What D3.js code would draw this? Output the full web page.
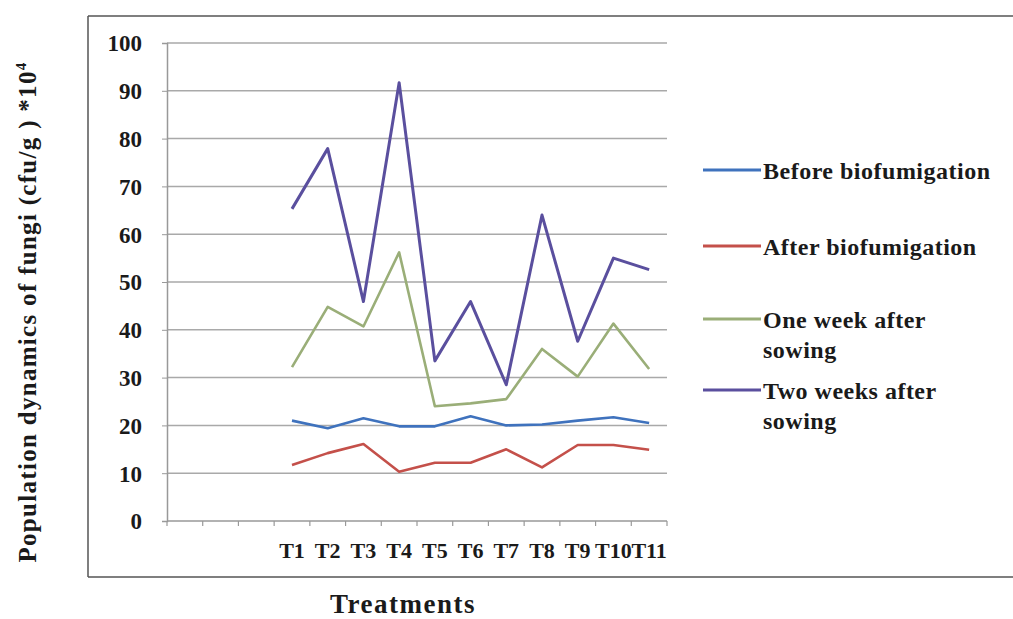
<!DOCTYPE html>
<html>
<head>
<meta charset="utf-8">
<script src="https://cdn.jsdelivr.net/npm/d3@7/dist/d3.min.js"></script>
<style>
  body { margin: 0; background: #fff; }
  svg { display: block; }
  text { font-family: "Liberation Serif", "Times New Roman", serif; font-weight: bold; fill: #1a1a1a; }
</style>
</head>
<body>
<svg id="chart" width="1013" height="619"></svg>
<script>
// Categories: three unlabeled slots ahead of the treatments
const categories = ["", "", "", "T1", "T2", "T3", "T4", "T5", "T6", "T7", "T8", "T9", "T10", "T11"];
const treatments = ["T1", "T2", "T3", "T4", "T5", "T6", "T7", "T8", "T9", "T10", "T11"];
const yTicks = [0, 10, 20, 30, 40, 50, 60, 70, 80, 90, 100];

const beforeBio = [21, 19.4, 21.5, 19.8, 19.8, 21.9, 20, 20.2, 21, 21.7, 20.5];
const afterBio = [11.7, 14.2, 16.1, 10.3, 12.2, 12.2, 15, 11.2, 15.9, 15.9, 14.9];
const oneWeek = [32.2, 44.8, 40.7, 56.2, 24, 24.6, 25.5, 36, 30.2, 41.3, 31.8];
const twoWeeks = [65.3, 77.9, 45.9, 91.7, 33.5, 45.9, 28.5, 64, 37.6, 55, 52.6];

const seriesColors = ["#3f72bd", "#c4504a", "#9aae78", "#5a4f9e"];
const seriesData = [beforeBio, afterBio, oneWeek, twoWeeks];

const svg = d3.select("#chart");
const plotLeft = 167, plotRight = 667, plotTop = 43, plotBottom = 521;

// Outer chart frame
const frame = svg.append("g").attr("stroke", "#555").attr("stroke-width", 1.5).attr("fill", "none");
frame.append("line").attr("x1", 88).attr("x2", 1013).attr("y1", 16).attr("y2", 16);
frame.append("line").attr("x1", 88).attr("x2", 88).attr("y1", 16).attr("y2", 577);
frame.append("line").attr("x1", 88).attr("x2", 1013).attr("y1", 577).attr("y2", 577);

const x = d3.scaleBand().domain(categories.map((d, i) => i)).range([plotLeft, plotRight]);
const y = d3.scaleLinear().domain([0, 100]).range([plotBottom, plotTop]);

// Horizontal gridlines
svg.append("g")
  .selectAll("line")
  .data(yTicks.filter(d => d > 0))
  .join("line")
  .attr("x1", plotLeft).attr("x2", plotRight)
  .attr("y1", d => y(d)).attr("y2", d => y(d))
  .attr("stroke", "#a9a9a9").attr("stroke-width", 1.5);

// Y axis
const yAxis = svg.append("g")
  .attr("transform", `translate(${plotLeft},0)`)
  .call(d3.axisLeft(y).tickValues(yTicks).tickSize(5).tickPadding(20));
yAxis.select(".domain").attr("stroke", "#999").attr("stroke-width", 1.5);
yAxis.selectAll(".tick line").attr("stroke", "#999");
yAxis.selectAll("text").style("font-size", "23px").attr("fill", "#1a1a1a").attr("dy", "0.34em")
  .style("font-family", "'Liberation Serif', serif").style("font-weight", "bold");

// X axis with tick marks at category boundaries
const xAxis = svg.append("g").attr("transform", `translate(0,${plotBottom})`);
xAxis.append("line").attr("x1", plotLeft).attr("x2", plotRight).attr("y1", 0).attr("y2", 0)
  .attr("stroke", "#999").attr("stroke-width", 1.5);
xAxis.selectAll("line.tk")
  .data(d3.range(categories.length + 1))
  .join("line")
  .attr("class", "tk")
  .attr("x1", i => plotLeft + i * x.step()).attr("x2", i => plotLeft + i * x.step())
  .attr("y1", 0).attr("y2", 5)
  .attr("stroke", "#999").attr("stroke-width", 1.2);
xAxis.selectAll("text")
  .data(categories)
  .join("text")
  .attr("x", (d, i) => x(i) + x.bandwidth() / 2)
  .attr("y", 37)
  .attr("text-anchor", "middle")
  .style("font-size", "22px")
  .text(d => d);

// Series lines
const line = d3.line()
  .x((d, i) => x(categories.indexOf(treatments[i])) + x.bandwidth() / 2)
  .y(d => y(d));

seriesData.forEach((vals, k) => {
  svg.append("path")
    .datum(vals)
    .attr("fill", "none")
    .attr("stroke", seriesColors[k])
    .attr("stroke-width", k === 3 ? 3 : 2.6)
    .attr("stroke-linejoin", "round")
    .attr("d", line);
});

// Legend
const legendRows = [
  { lines: ["Before biofumigation"], y: 170 },
  { lines: ["After biofumigation"], y: 246 },
  { lines: ["One week after", "sowing"], y: 319 },
  { lines: ["Two weeks after", "sowing"], y: 390 }
];
const legend = svg.append("g");
legendRows.forEach((r, k) => {
  legend.append("line")
    .attr("x1", 703).attr("x2", 761)
    .attr("y1", r.y).attr("y2", r.y)
    .attr("stroke", seriesColors[k]).attr("stroke-width", 3);
  const t = legend.append("text")
    .attr("x", 763).attr("y", r.y + 9)
    .style("font-size", "24px")
    .style("letter-spacing", "0.5px");
  r.lines.forEach((s, j) => {
    t.append("tspan").attr("x", 763).attr("dy", j === 0 ? 0 : 30).text(s);
  });
});

// Axis titles
svg.append("text")
  .attr("x", 403).attr("y", 613)
  .attr("text-anchor", "middle")
  .style("font-size", "27px")
  .style("letter-spacing", "1.5px")
  .text("Treatments");

const yTitle = svg.append("text")
  .attr("transform", "translate(36,312) rotate(-90)")
  .attr("text-anchor", "middle")
  .style("font-size", "25px")
  .style("letter-spacing", "1.3px");
yTitle.append("tspan").text("Population dynamics of fungi (cfu/g ) *10");
yTitle.append("tspan").attr("dy", -10).style("font-size", "15px").text("4");
</script>
</body>
</html>
